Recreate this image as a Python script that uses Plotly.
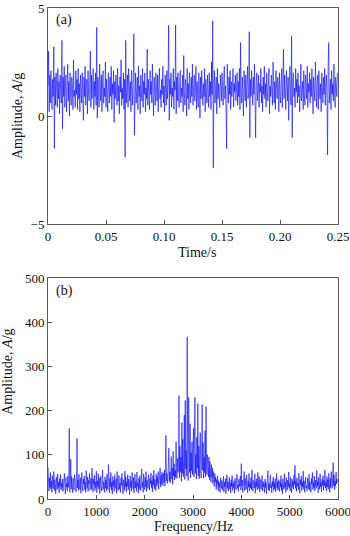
import numpy as np
import plotly.graph_objects as go

# (a) vibration acceleration signal, sampled every 0.5 ms
dt = 0.0005
amplitude = [
    1.4,3.0,0.2,1.9,0.6,2.1,1.0,0.3,1.7,0.9,3.2,-1.5,1.8,0.5,2.0,1.2,0.4,2.2,0.8,1.6,0.1,1.9,1.1,0.6,3.5,
    -0.6,1.8,0.9,2.3,0.4,1.5,1.9,0.2,1.3,2.4,0.7,1.6,0.0,2.0,1.1,0.5,1.8,1.4,0.3,2.6,0.9,1.2,0.4,2.1,1.0,
    1.7,0.3,2.2,0.8,1.5,0.2,1.9,1.3,0.6,2.0,1.1,-0.2,1.8,0.9,2.3,0.5,1.4,1.7,0.1,2.1,1.0,0.7,1.6,3.0,0.4,
    1.9,0.8,1.3,2.2,0.3,1.6,0.9,2.0,0.5,4.1,-0.1,1.8,1.2,0.4,2.4,1.0,0.7,1.9,0.2,1.5,2.1,0.6,1.3,0.9,2.5,
    0.4,1.7,1.1,0.2,2.0,1.4,0.6,1.8,0.9,2.3,0.3,1.5,1.0,2.1,-0.3,1.6,0.8,1.9,1.2,0.5,2.2,0.7,1.4,0.1,1.8,
    1.1,2.6,0.5,1.3,0.8,2.0,0.3,1.7,-1.9,3.5,0.6,1.2,1.9,0.4,2.2,1.0,0.7,1.6,0.2,2.1,1.3,0.5,1.8,3.8,-0.9,
    1.5,2.0,0.6,1.2,1.8,0.3,2.3,0.9,1.4,0.1,1.9,1.1,0.7,2.2,0.4,1.6,1.0,2.0,0.2,1.3,0.8,3.1,0.5,1.7,1.2,
    0.3,2.1,1.0,1.6,0.6,2.4,0.9,0.0,1.8,1.3,0.5,2.0,1.1,0.7,1.9,0.2,1.5,2.2,0.8,1.2,0.4,1.7,1.0,2.3,0.6,
    1.4,0.2,1.9,1.1,0.5,2.1,0.8,1.5,4.2,-0.2,1.7,1.0,2.0,0.4,1.3,0.9,2.2,0.3,1.6,1.2,4.2,0.1,1.8,0.7,2.0,
    1.0,0.4,1.6,2.1,0.6,1.3,0.9,1.9,0.2,2.8,1.1,0.5,1.7,1.4,0.0,2.2,0.8,1.5,0.3,2.0,1.2,0.6,1.8,0.9,2.4,
    0.5,1.3,1.9,0.7,1.1,2.3,0.3,1.6,1.0,0.4,2.0,1.4,-0.1,1.8,0.8,2.1,1.2,0.5,1.5,0.9,2.2,0.2,1.7,1.1,0.6,
    1.9,1.3,0.4,2.0,0.9,1.6,0.3,2.5,1.0,4.4,-2.4,1.4,2.1,0.6,1.2,1.8,0.1,2.2,0.8,1.5,1.0,0.4,1.9,1.3,0.7,
    2.0,1.1,0.5,1.7,2.3,0.8,1.4,0.2,-1.5,2.4,1.2,0.6,1.8,1.0,2.1,0.3,1.6,0.9,1.3,2.2,0.4,1.5,1.1,1.9,0.7,
    1.3,2.0,0.5,1.6,0.9,2.2,0.3,3.4,1.0,0.6,1.8,1.2,0.0,2.1,1.4,0.7,1.9,0.4,1.5,2.3,0.8,1.1,3.9,-1.0,1.7,
    0.9,2.1,1.3,0.5,1.8,1.0,2.4,0.3,-1.0,1.6,2.0,0.7,1.2,1.9,0.4,1.5,1.1,2.2,0.6,1.4,0.2,1.8,1.0,2.3,0.8,
    1.5,0.4,2.0,1.2,0.7,1.7,2.2,0.1,1.4,0.9,1.9,1.3,0.5,2.5,1.0,0.6,1.6,0.3,2.1,1.1,0.8,1.8,1.4,0.2,2.0,
    1.0,0.6,1.7,2.2,0.4,1.3,3.1,0.8,1.9,1.2,0.3,2.1,1.5,0.7,1.8,-0.2,1.4,2.3,1.0,0.5,3.7,-1.0,1.6,2.0,0.9,
    1.3,0.4,2.2,1.1,1.7,0.6,2.0,0.9,1.4,0.2,1.8,2.4,0.7,1.2,1.6,0.3,2.1,1.0,0.5,1.9,1.3,0.8,2.3,0.4,1.5,
    1.1,2.0,0.6,1.7,0.9,2.2,1.4,0.1,1.8,1.0,0.7,2.5,1.2,0.4,1.6,1.9,0.3,2.1,1.1,0.8,1.5,0.2,2.0,1.3,0.6,
    1.8,1.0,2.2,0.5,1.4,1.9,0.8,-1.8,2.3,3.4,0.6,1.2,1.7,0.3,2.1,1.0,1.5,0.7,2.4,1.1,0.4,1.8,1.3,0.9,2.0,
]

# (b) amplitude spectrum, 10 Hz resolution
df = 10
spectrum = [
    72,35,18,48,26,60,22,41,15,53,30,24,62,19,44,28,12,50,33,21,57,25,38,14,46,29,55,20,36,24,
    45,17,40,31,58,23,12,49,27,35,18,52,26,44,160,15,38,90,22,51,30,14,47,36,20,55,28,41,16,33,
    137,25,43,19,56,31,22,48,13,37,60,27,18,45,33,52,21,39,15,64,29,24,50,17,42,35,58,20,31,47,
    22,70,28,16,45,33,54,19,38,26,63,14,41,30,57,23,48,12,36,52,27,18,44,66,21,39,31,15,50,25,
    43,18,56,30,22,78,35,14,47,27,60,20,38,11,51,29,42,17,55,24,33,46,13,62,28,19,40,53,22,36,
    15,48,31,58,24,12,44,37,19,63,27,50,16,39,29,55,21,45,33,10,52,26,41,18,60,30,23,49,14,37,
    56,25,40,17,61,29,35,13,47,22,53,31,19,44,68,26,38,15,57,33,21,49,28,62,17,42,36,24,55,30,
    20,47,34,59,26,42,16,53,31,65,23,45,38,19,57,28,50,35,62,22,48,40,70,27,55,33,61,45,30,58,
    38,66,29,72,144,41,58,35,47,78,115,40,62,37,55,96,45,70,34,108,52,80,43,65,49,130,57,46,92,60,
    75,234,48,120,62,95,40,173,58,135,50,88,190,44,223,68,110,52,367,80,42,230,150,60,170,48,105,64,130,55,
    85,160,50,118,230,58,100,45,140,70,216,52,120,46,90,150,62,48,110,214,65,128,47,95,60,155,50,209,78,55,
    100,70,50,95,44,85,65,38,78,50,70,35,62,46,28,58,39,50,22,44,33,52,18,41,27,36,15,48,30,24,
    42,20,35,51,16,38,27,46,12,33,55,24,40,18,30,49,22,37,14,44,28,53,19,35,26,41,13,47,31,21,
    39,56,24,33,17,45,28,36,52,20,80,29,43,15,38,26,62,19,47,31,22,54,35,14,41,27,58,18,36,25,
    48,21,66,30,17,42,35,25,57,13,39,28,46,20,60,33,24,51,16,37,44,22,31,53,18,40,27,35,15,45,
    26,38,12,47,30,64,21,36,18,43,55,25,33,14,40,28,50,19,37,23,46,16,32,58,24,39,20,44,29,17,
    41,27,53,19,35,12,46,30,22,57,26,38,15,49,32,20,43,28,61,24,36,18,50,31,14,45,27,40,22,55,
    33,76,24,40,17,48,29,35,21,58,26,13,44,32,52,19,38,27,63,22,41,15,36,50,25,30,18,47,34,23,
    56,20,39,28,15,47,33,60,21,37,26,52,18,43,30,24,65,29,40,14,49,35,22,57,27,38,16,45,31,53,
    20,42,30,66,25,37,18,51,28,44,22,58,33,15,47,26,62,35,24,49,82,30,55,21,40,29,61,34,45,38,
]

time_ticks = [0, 0.05, 0.10, 0.15, 0.20, 0.25]
time_labels = ["0", "0.05", "0.10", "0.15", "0.20", "0.25"]
amp_ticks = [-5, 0, 5]
amp_labels = ["\u22125", "0", "5"]
freq_ticks = [0, 1000, 2000, 3000, 4000, 5000, 6000]
spec_ticks = [0, 100, 200, 300, 400, 500]

t = np.arange(len(amplitude)) * dt
f = np.arange(len(spectrum)) * df

SERIF = "Liberation Serif, Times New Roman, serif"
FRAME = "#5a5a5a"
BLUE = "#0000ff"

fig = go.Figure()
fig.add_trace(go.Scatter(x=t, y=amplitude, mode="lines",
                         line=dict(color=BLUE, width=0.6),
                         xaxis="x", yaxis="y", showlegend=False))
fig.add_trace(go.Scatter(x=f, y=spectrum, mode="lines",
                         line=dict(color=BLUE, width=0.6),
                         xaxis="x2", yaxis="y2", showlegend=False))

axis_common = dict(showline=True, linecolor=FRAME, linewidth=1, mirror=True,
                   ticks="inside", ticklen=4, tickcolor=FRAME, tickwidth=1,
                   showgrid=False, zeroline=False, automargin=False,
                   ticklabeloverflow="allow",
                   tickfont=dict(family=SERIF, size=13, color="#111"))

fig.update_layout(
    width=350, height=536,
    margin=dict(l=48, r=12, t=8, b=37),
    paper_bgcolor="white", plot_bgcolor="white",
    xaxis=dict(domain=[0, 1], range=[0, 0.25], tickvals=time_ticks,
               ticktext=time_labels, anchor="y", **axis_common),
    yaxis=dict(domain=[0.560, 1], range=[-5, 5], tickvals=amp_ticks,
               ticktext=amp_labels, anchor="x", **axis_common),
    xaxis2=dict(domain=[0, 1], range=[0, 6000], tickvals=freq_ticks,
                anchor="y2", **axis_common),
    yaxis2=dict(domain=[0, 0.450], range=[0, 500], tickvals=spec_ticks,
                anchor="x2", **axis_common),
)

title_font = dict(family=SERIF, size=14, color="#111")
annotations = [
    dict(text="Time/s", x=0.514, y=0.503, xref="paper", yref="paper",
         showarrow=False, font=title_font, xanchor="center", yanchor="middle"),
    dict(text="Frequency/Hz", x=0.50, y=-0.057, xref="paper", yref="paper",
         showarrow=False, font=title_font, xanchor="center", yanchor="middle"),
    dict(text="Amplitude, <i>A</i>/g", x=-0.107, y=0.780, xref="paper", yref="paper",
         showarrow=False, font=title_font, textangle=-90,
         xanchor="center", yanchor="middle"),
    dict(text="Amplitude, <i>A</i>/g", x=-0.138, y=0.259, xref="paper", yref="paper",
         showarrow=False, font=title_font, textangle=-90,
         xanchor="center", yanchor="middle"),
    dict(text="(a)", x=0.02, y=0.995, xref="paper", yref="paper",
         showarrow=False, font=title_font, xanchor="left", yanchor="top"),
    dict(text="(b)", x=0.02, y=0.445, xref="paper", yref="paper",
         showarrow=False, font=title_font, xanchor="left", yanchor="top"),
]
fig.update_layout(annotations=annotations)

fig.write_html("out.html")
